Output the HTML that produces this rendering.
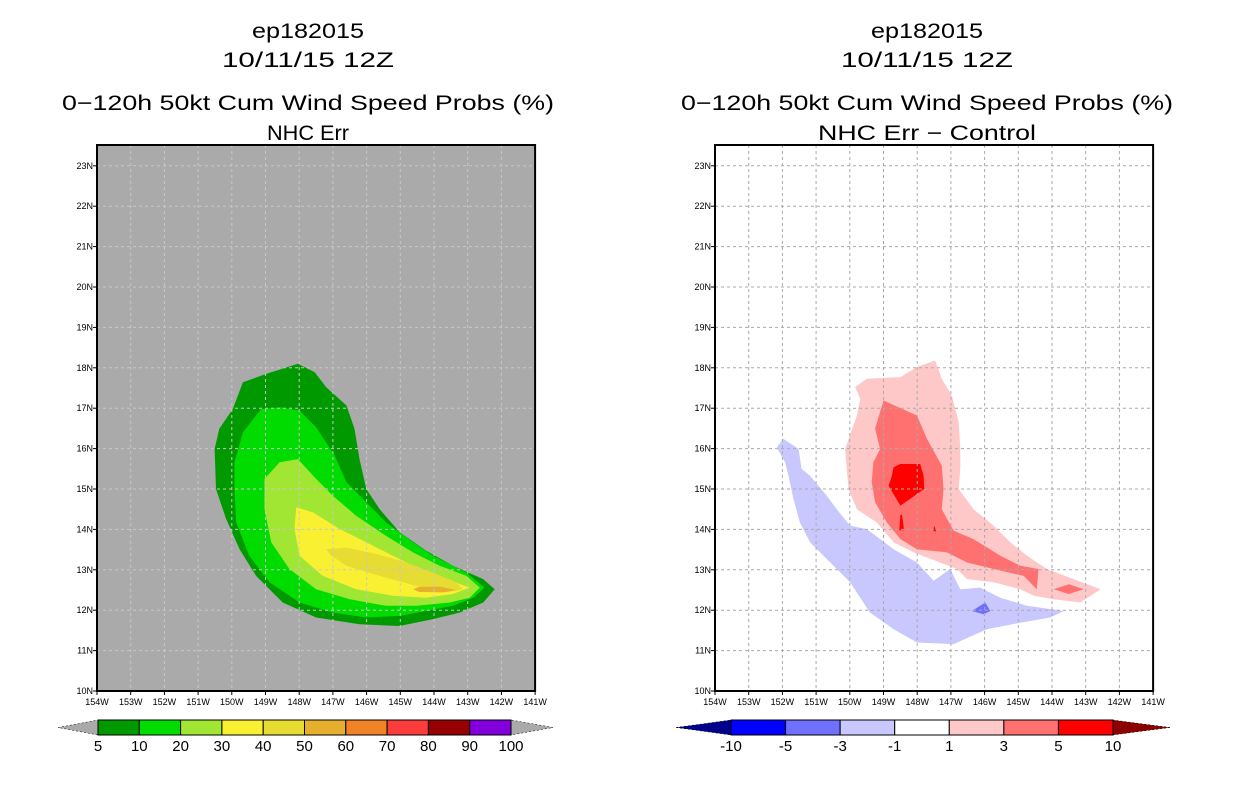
<!DOCTYPE html>
<html><head><meta charset="utf-8"><style>
body{margin:0;background:#fff;}
svg{display:block;font-family:"Liberation Sans",sans-serif;}
</style></head><body>
<svg id="chart" width="1236" height="800" viewBox="0 0 1236 800">
<g id="titles"></g>
<g id="left"></g>
<g id="right"></g>
<g id="cbars"></g>
</svg>
<script>
const lonTicks=[154,153,152,151,150,149,148,147,146,145,144,143,142,141];
const latTicks=[10,11,12,13,14,15,16,17,18,19,20,21,22,23];
const leftLevels=['5','10','20','30','40','50','60','70','80','90','100'];
const leftColors=['#009a00','#00dc00','#a0e632','#faf032','#e6dc32','#e6af2d','#f08228','#fa3c3c','#960000','#8200dc'];
const rightLevels=['-10','-5','-3','-1','1','3','5','10'];
const rightColors=['#0000ff','#7070ff','#c8c8ff','#ffffff','#ffc8c8','#ff7070','#ff0000'];
// left contour polygons [lon,lat]
const p5=[[-150.51,15.99],[-150.37,16.49],[-149.97,16.98],[-149.67,17.64],[-148.98,17.85],[-148.04,18.10],[-147.54,17.89],[-147.20,17.52],[-146.60,17.07],[-146.36,16.49],[-146.21,15.74],[-146.01,15.00],[-145.61,14.50],[-145.02,13.93],[-144.23,13.47],[-143.44,13.10],[-142.54,12.77],[-142.20,12.52],[-142.54,12.19],[-143.24,11.94],[-144.03,11.78],[-145.02,11.61],[-146.21,11.65],[-147.50,11.82],[-148.49,12.19],[-149.28,12.85],[-149.77,13.51],[-150.17,14.26],[-150.47,15.00]];
const p10=[[-149.92,15.66],[-149.67,16.40],[-149.13,16.98],[-148.53,17.02],[-147.99,16.94],[-147.50,16.53],[-146.95,15.83],[-146.60,15.17],[-146.01,14.67],[-145.42,14.17],[-144.62,13.68],[-144.03,13.35],[-143.04,12.93],[-142.50,12.56],[-142.84,12.31],[-143.44,12.11],[-144.23,11.98],[-145.02,11.86],[-146.01,11.82],[-147.00,11.94],[-147.99,12.19],[-148.88,12.69],[-149.48,13.35],[-149.87,14.17],[-149.92,15.00]];
const p20=[[-149.03,15.25],[-148.58,15.66],[-148.04,15.74],[-147.50,15.25],[-147.00,14.83],[-146.31,14.34],[-145.42,13.84],[-144.62,13.43],[-143.83,13.10],[-143.04,12.85],[-142.64,12.56],[-142.94,12.31],[-143.53,12.19],[-144.52,12.11],[-145.42,12.11],[-146.50,12.27],[-147.50,12.52],[-148.29,13.02],[-148.83,13.68],[-149.03,14.50]];
const p30=[[-148.09,14.55],[-147.59,14.42],[-146.80,14.01],[-146.01,13.68],[-145.22,13.35],[-144.43,13.02],[-143.63,12.77],[-142.94,12.56],[-143.44,12.40],[-144.23,12.31],[-145.22,12.36],[-146.31,12.52],[-147.30,12.85],[-147.99,13.35],[-148.14,14.01]];
const p40=[[-147.20,13.51],[-146.60,13.55],[-145.71,13.39],[-144.82,13.18],[-144.03,12.93],[-143.34,12.69],[-143.14,12.52],[-143.63,12.44],[-144.52,12.60],[-145.61,12.85],[-146.60,13.10],[-147.05,13.35]];
const p50=[[-144.62,12.52],[-144.43,12.58],[-143.83,12.58],[-143.34,12.50],[-143.73,12.44],[-144.43,12.45]];
// right contour polygons
const r1=[[-149.84,17.52],[-149.50,17.73],[-148.50,17.77],[-148.01,18.02],[-147.47,18.18],[-147.27,17.73],[-146.97,17.31],[-146.77,16.65],[-146.72,15.99],[-146.72,15.50],[-146.77,15.00],[-146.33,14.50],[-145.73,14.09],[-145.24,13.68],[-144.74,13.35],[-144.15,13.02],[-143.36,12.77],[-142.56,12.52],[-143.16,12.19],[-143.95,12.27],[-144.54,12.36],[-144.94,12.52],[-145.73,12.69],[-146.52,12.77],[-146.82,13.02],[-147.32,13.18],[-148.11,13.43],[-148.70,13.68],[-149.20,14.17],[-149.79,14.50],[-150.04,15.00],[-150.14,15.99],[-149.79,16.82],[-149.69,17.23]];
const r3=[[-149.00,17.19],[-148.01,16.82],[-147.71,16.24],[-147.27,15.58],[-147.22,15.00],[-147.27,14.50],[-146.92,13.97],[-146.33,13.76],[-145.53,13.35],[-144.94,13.10],[-144.40,13.02],[-144.45,12.52],[-144.84,12.85],[-145.73,13.02],[-146.52,13.18],[-147.12,13.43],[-148.01,13.51],[-148.50,13.76],[-148.90,14.17],[-149.25,14.67],[-149.35,15.17],[-149.30,15.66],[-149.10,15.99],[-149.25,16.49]];
const r3b=[[-143.95,12.52],[-143.50,12.64],[-143.06,12.52],[-143.50,12.40]];
const r5=[[-148.70,15.54],[-148.50,15.62],[-147.91,15.62],[-147.81,15.33],[-147.79,15.00],[-148.50,14.59],[-148.85,15.08],[-148.75,15.33]];
const r5b=[[-148.50,14.36],[-148.45,14.36],[-148.39,13.98],[-148.53,13.98]];
const r5c=[[-147.49,14.09],[-147.44,13.94],[-147.53,13.97]];
const n1=[[-152.17,16.03],[-151.97,16.24],[-151.52,15.99],[-151.43,15.50],[-151.18,15.33],[-150.68,14.83],[-150.39,14.50],[-149.99,14.09],[-149.50,14.01],[-148.70,13.51],[-148.01,13.18],[-147.51,12.73],[-147.02,13.02],[-146.72,12.52],[-146.13,12.56],[-145.53,12.31],[-144.74,12.11],[-143.65,11.98],[-144.05,11.82],[-144.94,11.69],[-145.93,11.53],[-146.92,11.16],[-148.01,11.20],[-148.70,11.53],[-149.40,11.94],[-149.99,12.69],[-150.58,13.18],[-151.18,13.68],[-151.48,14.17],[-151.67,14.75],[-151.82,15.33],[-151.92,15.66]];
const n3=[[-146.38,11.98],[-145.98,12.19],[-145.83,11.98],[-146.03,11.90]];

const NS='http://www.w3.org/2000/svg';
const PX=33.7, PY=40.4, Y0=691, TOP=145;
function xS(lon,x0){return x0+(lon+154)*PX;}
function yS(lat){return Y0-(lat-10)*PY;}
function mk(tag,attrs,parent){const e=document.createElementNS(NS,tag);for(const k in attrs)e.setAttribute(k,attrs[k]);parent.appendChild(e);return e;}
function txt(s,x,y,size,anchor,parent,len){const t=mk('text',{x:x,y:y,'font-size':size,'text-anchor':anchor,fill:'#000'},parent);if(len){t.setAttribute('textLength',len);t.setAttribute('lengthAdjust','spacingAndGlyphs');}t.textContent=s;return t;}

function panel(g,x0,bg,polys,gridCol){
  const w=13*PX;
  const bgr=mk('rect',{x:x0,y:TOP,width:w,height:Y0-TOP,fill:bg},g);
  
  
  polys.forEach(p=>{
    const pts=p.d.map(q=>xS(q[0],x0).toFixed(1)+','+yS(q[1]).toFixed(1)).join(' ');
    const el=mk('polygon',{points:pts,fill:p.c},g);
    
    
  });
  lonTicks.forEach((l,i)=>{
    const x=xS(-l,x0);
    if(i>0&&i<lonTicks.length-1){const gl=mk('line',{x1:x,y1:TOP,x2:x,y2:Y0,stroke:gridCol,'stroke-width':1,'stroke-dasharray':'3,3'},g);
      }
    mk('line',{x1:x,y1:Y0,x2:x,y2:Y0+4,stroke:'#000'},g);
    const t=txt(l+'W',x,705,9,'middle',g);
    
  });
  latTicks.forEach((l,i)=>{
    const y=yS(l);
    if(i>0){const gl=mk('line',{x1:x0,y1:y,x2:x0+w,y2:y,stroke:gridCol,'stroke-width':1,'stroke-dasharray':'3,3'},g);
      }
    mk('line',{x1:x0-4,y1:y,x2:x0,y2:y,stroke:'#000'},g);
    const t=txt(l+'N',x0-4,y+3,9,'end',g);
    
  });
  const fr=mk('rect',{x:x0,y:TOP,width:w,height:Y0-TOP,fill:'none',stroke:'#000','stroke-width':2},g);
  
}
panel(document.getElementById('left'),97,'#aaaaaa',[
 {d:p5,c:leftColors[0],n:'contour-5'},{d:p10,c:leftColors[1],n:'contour-10'},{d:p20,c:leftColors[2],n:'contour-20'},
 {d:p30,c:leftColors[3],n:'contour-30'},{d:p40,c:leftColors[4],n:'contour-40'},{d:p50,c:leftColors[5],n:'contour-50'}],'#c8c8c8');
panel(document.getElementById('right'),715,'#ffffff',[
 {d:r1,c:rightColors[4],n:'contour-plus-1'},{d:r3,c:rightColors[5],n:'contour-plus-3'},{d:r3b,c:rightColors[5],n:'contour-plus-3-east'},
 {d:r5,c:rightColors[6],n:'contour-plus-5'},{d:r5b,c:rightColors[6],n:'contour-plus-5-small'},{d:r5c,c:rightColors[6],n:'contour-plus-5-tiny'},
 {d:n1,c:rightColors[2],n:'contour-minus-1'},{d:n3,c:rightColors[1],n:'contour-minus-3'}],'#aaaaaa');

const tg=document.getElementById('titles');
[[308,'NHC Err',133,82,'left'],[927,'NHC Err \u2212 Control',133,218,'right']].forEach(a=>{
  const cx=a[0];
  const t1=txt('ep182015',cx,38,21,'middle',tg,112);
  const t2=txt('10/11/15 12Z',cx,67,21,'middle',tg,172);
  const t3=txt('0\u2212120h 50kt Cum Wind Speed Probs (%)',cx,110,21,'middle',tg,492);
  const t4=txt(a[1],cx,140,21,'middle',tg,a[3]);
});

const cg=document.getElementById('cbars');
function cbar(x0,x1,tl,tr,cols,cl,cr,labels,name){
  const g=mk('g',{},cg);
  
  
  const y0=720,y1=735,ym=727.5;
  mk('polygon',{points:`${tl},${ym} ${x0},${y0} ${x0},${y1}`,fill:cl,stroke:'#000','stroke-width':0.5,'stroke-dasharray':'2,2'},g);
  mk('polygon',{points:`${tr},${ym} ${x1},${y0} ${x1},${y1}`,fill:cr,stroke:'#000','stroke-width':0.5,'stroke-dasharray':'2,2'},g);
  const bw=(x1-x0)/cols.length;
  cols.forEach((c,i)=>{const r=mk('rect',{x:x0+i*bw,y:y0,width:bw,height:y1-y0,fill:c,stroke:'#000','stroke-width':1},g);
    });
  labels.forEach((l,i)=>{const t=txt(l,x0+i*bw,751,15,'middle',g);});
}
cbar(98,511,58,553,leftColors,'#aaaaaa','#aaaaaa',leftLevels,'left-colorbar');
cbar(731,1113,676,1170,rightColors,'#00008b','#8b0000',rightLevels,'right-colorbar');
</script>
</body></html>
